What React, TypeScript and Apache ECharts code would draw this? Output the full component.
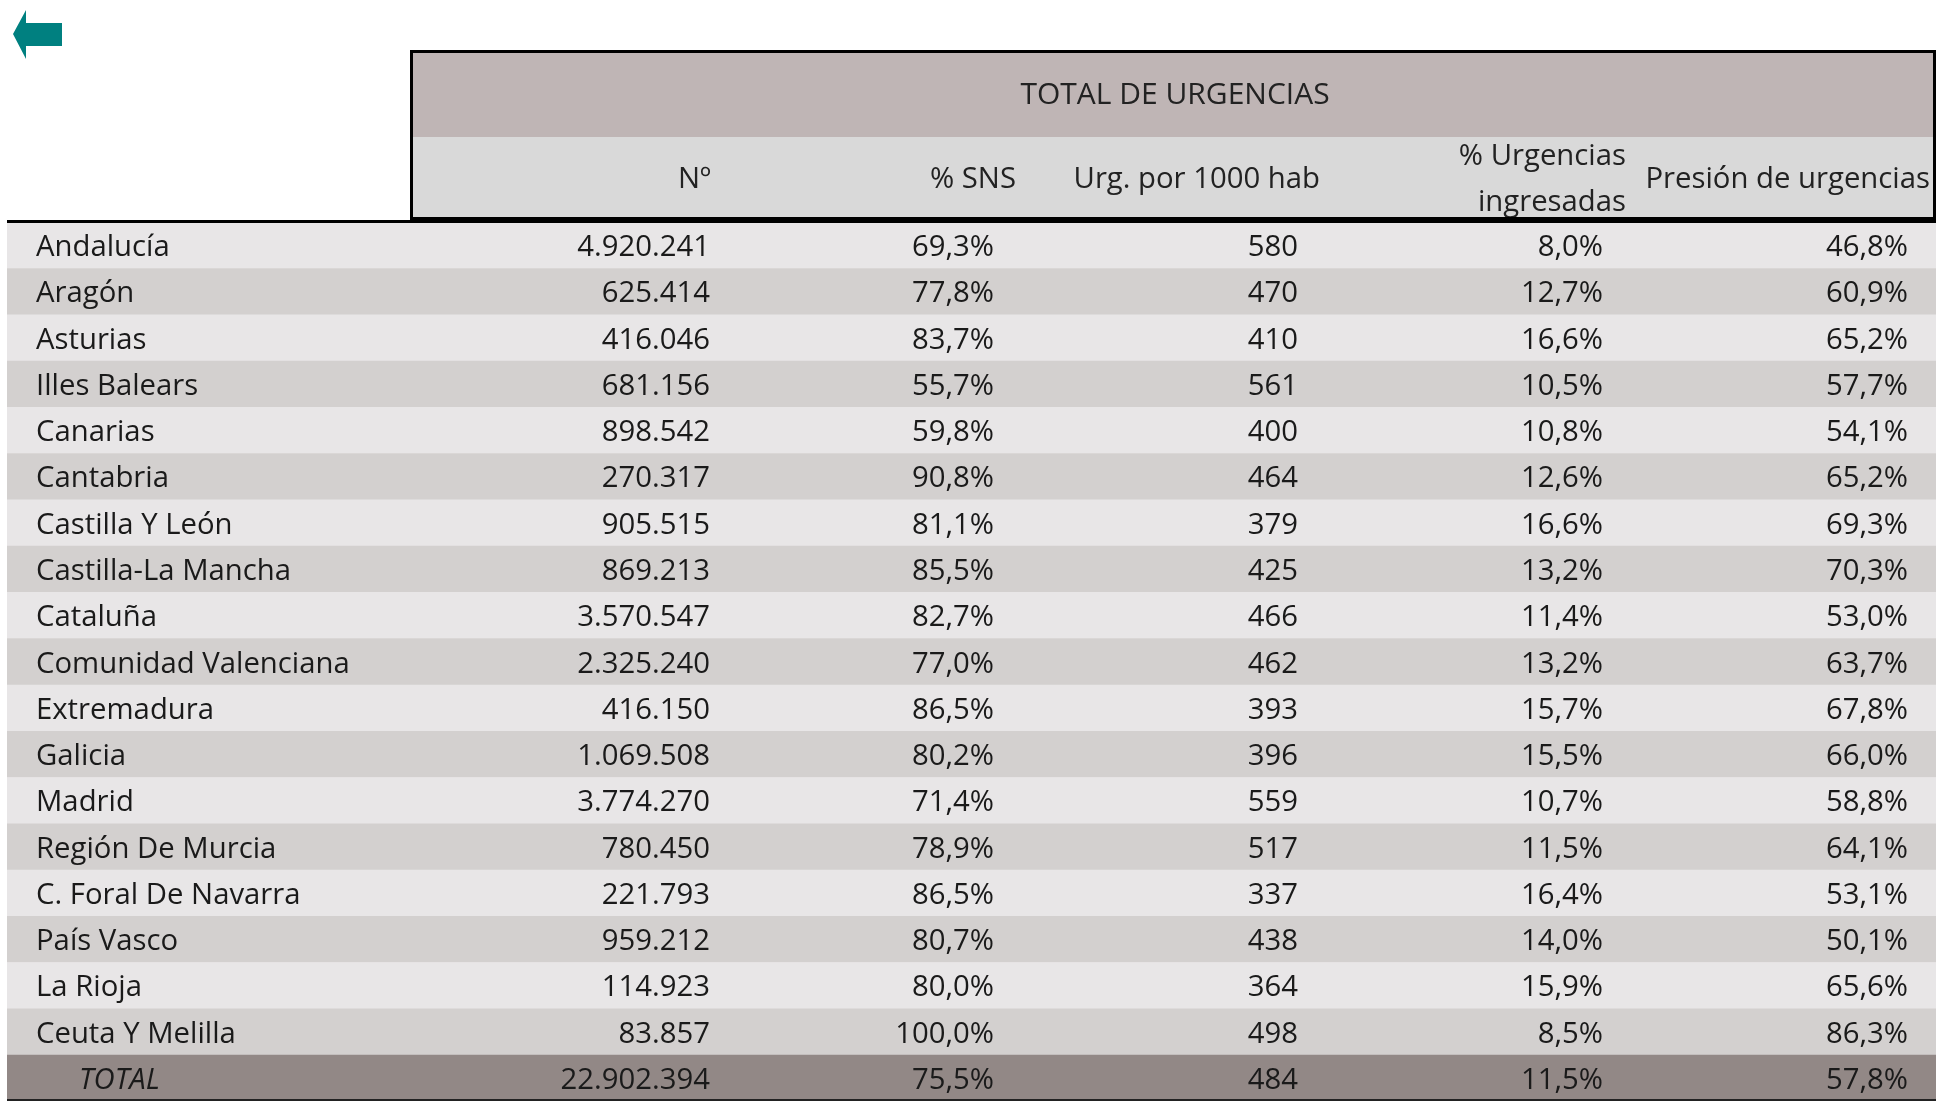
import React, { useEffect, useRef } from "react";
import * as echarts from "echarts";

const regions = [
  "Andalucía", "Aragón", "Asturias", "Illes Balears", "Canarias", "Cantabria",
  "Castilla Y León", "Castilla-La Mancha", "Cataluña", "Comunidad Valenciana",
  "Extremadura", "Galicia", "Madrid", "Región De Murcia", "C. Foral De Navarra",
  "País Vasco", "La Rioja", "Ceuta Y Melilla", "TOTAL",
];
const urgNum = [
  4920241, 625414, 416046, 681156, 898542, 270317, 905515, 869213, 3570547,
  2325240, 416150, 1069508, 3774270, 780450, 221793, 959212, 114923, 83857, 22902394,
];
const pctSNS = [
  69.3, 77.8, 83.7, 55.7, 59.8, 90.8, 81.1, 85.5, 82.7, 77.0, 86.5, 80.2, 71.4,
  78.9, 86.5, 80.7, 80.0, 100.0, 75.5,
];
const urgPer1000 = [
  580, 470, 410, 561, 400, 464, 379, 425, 466, 462, 393, 396, 559, 517, 337, 438,
  364, 498, 484,
];
const pctIngresadas = [
  8.0, 12.7, 16.6, 10.5, 10.8, 12.6, 16.6, 13.2, 11.4, 13.2, 15.7, 15.5, 10.7,
  11.5, 16.4, 14.0, 15.9, 8.5, 11.5,
];
const presion = [
  46.8, 60.9, 65.2, 57.7, 54.1, 65.2, 69.3, 70.3, 53.0, 63.7, 67.8, 66.0, 58.8,
  64.1, 53.1, 50.1, 65.6, 86.3, 57.8,
];
const title = "TOTAL DE URGENCIAS";
const colHeaders = ["Nº", "% SNS", "Urg. por 1000 hab", "% Urgencias\ningresadas", "Presión de urgencias"];

const FONT = "'Open Sans', 'Noto Sans', sans-serif";
const FS = 29.3;
const TXT = "#1a1a1a";

const fmtInt = (n: number) => String(n).replace(/\B(?=(\d{3})+(?!\d))/g, ".");
const fmtPct = (v: number) => v.toFixed(1).replace(".", ",") + "%";

// layout
const ROW_TOP = 222;
const ROW_H = 46.43;
const BAND_LEFT = 7;
const NAME_X = 36;
const TOTAL_X = 79;
const VALUE_RIGHTS = [710, 994, 1298, 1603, 1908];
const HEADER_RIGHTS = [711, 1016, 1320, 1626, 1930];

export default function App() {
  const ref = useRef<HTMLDivElement>(null);
  useEffect(() => {
    document.body.style.margin = "0";
    const chart = echarts.init(ref.current!, null, { renderer: "svg" });
    const lastIdx = regions.length - 1;
    const data = regions.map((_, i) => [0, i]);

    const headerGraphics: any[] = [
      {
        type: "polygon",
        shape: { points: [[13, 34], [26, 10], [26, 23], [62, 23], [62, 46], [26, 46], [26, 59]] },
        style: { fill: "#008080" },
      },
      { type: "rect", shape: { x: 413, y: 53, width: 1521, height: 84 }, style: { fill: "#bfb5b5" } },
      { type: "rect", shape: { x: 413, y: 137, width: 1521, height: 80 }, style: { fill: "#d9d9d9" } },
      {
        type: "rect",
        z: 20,
        shape: { x: 411.5, y: 51.5, width: 1523, height: 167 },
        style: { fill: "none", stroke: "#000", lineWidth: 3 },
      },
      {
        type: "line",
        z: 20,
        shape: { x1: BAND_LEFT, y1: 221.5, x2: 1936, y2: 221.5 },
        style: { stroke: "#000", lineWidth: 3 },
      },
      {
        type: "text",
        x: 1175,
        y: 92,
        style: { text: title, font: `30px ${FONT}`, fill: "#222", align: "center", verticalAlign: "middle" },
      },
      {
        type: "line",
        z: 20,
        shape: { x1: BAND_LEFT, y1: 1100, x2: 1936, y2: 1100 },
        style: { stroke: "#222", lineWidth: 2 },
      },
    ];
    colHeaders.forEach((h, c) => {
      const lines = h.split("\n");
      if (lines.length === 1) {
        headerGraphics.push({
          type: "text",
          x: HEADER_RIGHTS[c],
          y: 177,
          style: { text: h, font: `${FS}px ${FONT}`, fill: "#222", align: "right", verticalAlign: "middle" },
        });
      } else {
        lines.forEach((ln, k) => {
          headerGraphics.push({
            type: "text",
            x: HEADER_RIGHTS[c],
            y: 154 + k * 46,
            style: { text: ln, font: `${FS}px ${FONT}`, fill: "#222", align: "right", verticalAlign: "middle" },
          });
        });
      }
    });

    chart.setOption({
      animation: false,
      grid: { left: 0, right: 0, top: ROW_TOP, height: ROW_H * regions.length },
      xAxis: { type: "value", min: 0, max: 1936, show: false },
      yAxis: { type: "category", data: regions, inverse: true, show: false },
      graphic: headerGraphics,
      series: [
        {
          type: "custom",
          clip: false,
          encode: { x: 0, y: 1 },
          data,
          renderItem: (params: any, api: any) => {
            const i = api.value(1);
            const c = api.coord([0, i]);
            const h = api.size([0, 1])[1];
            const cy = c[1];
            const top = cy - h / 2;
            const isTotal = i === lastIdx;
            const fill = isTotal ? "#928886" : i % 2 === 0 ? "#e8e6e7" : "#d3d0cf";
            const vals = [
              fmtInt(urgNum[i]),
              fmtPct(pctSNS[i]),
              String(urgPer1000[i]),
              fmtPct(pctIngresadas[i]),
              fmtPct(presion[i]),
            ];
            const children: any[] = [
              { type: "rect", shape: { x: BAND_LEFT, y: top, width: 1936 - BAND_LEFT, height: h + 0.5 }, style: { fill } },
              {
                type: "text",
                x: isTotal ? TOTAL_X : NAME_X,
                y: cy,
                style: {
                  text: regions[i],
                  font: `${isTotal ? "italic " : ""}${FS}px ${FONT}`,
                  fill: TXT,
                  align: "left",
                  verticalAlign: "middle",
                },
              },
            ];
            vals.forEach((v, k) => {
              children.push({
                type: "text",
                x: VALUE_RIGHTS[k],
                y: cy,
                style: { text: v, font: `${FS}px ${FONT}`, fill: TXT, align: "right", verticalAlign: "middle" },
              });
            });
            return { type: "group", children };
          },
        },
      ],
    });
    return () => chart.dispose();
  }, []);
  return <div ref={ref} style={{ position: "fixed", left: 0, top: 0, width: 1936, height: 1101 }} />;
}
